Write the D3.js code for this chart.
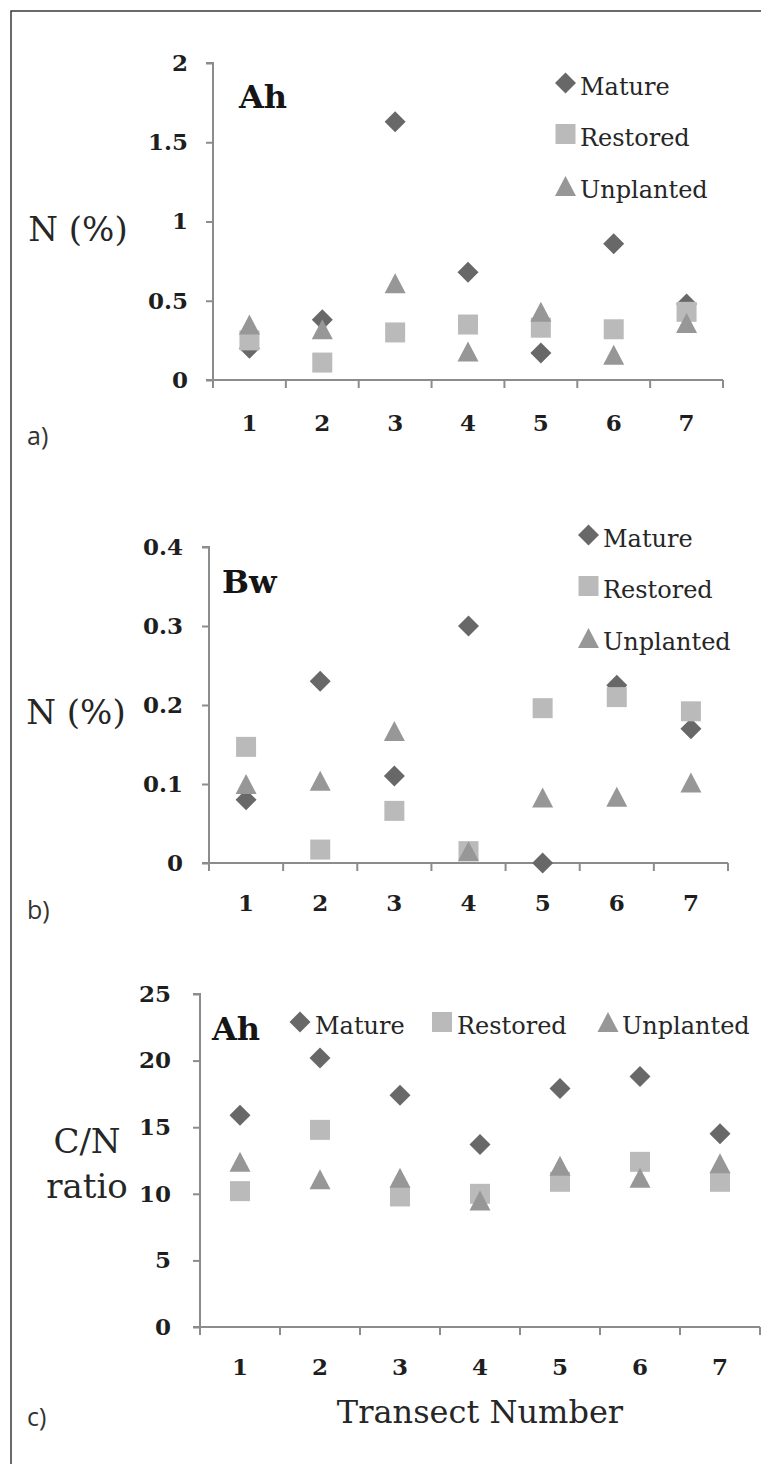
<!DOCTYPE html>
<html>
<head>
<meta charset="utf-8">
<script src="https://cdn.jsdelivr.net/npm/d3@7"></script>
<style>
  html, body { margin: 0; padding: 0; background: #fff; }
  svg { display: block; }
</style>
</head>
<body>
<svg id="chart" width="761" height="1464"></svg>
<script>
// ---- Data ----
const transects = ["1", "2", "3", "4", "5", "6", "7"];
const seriesNames = ["Mature", "Restored", "Unplanted"];

// Panel a: N (%) Ah horizon
const matureAh    = [0.20, 0.38, 1.63, 0.68, 0.17, 0.86, 0.48];
const restoredAh  = [0.25, 0.11, 0.30, 0.35, 0.33, 0.32, 0.43];
const unplantedAh = [0.35, 0.32, 0.61, 0.18, 0.43, 0.16, 0.36];

// Panel b: N (%) Bw horizon
const matureBw    = [0.080, 0.230, 0.110, 0.300, 0.000, 0.225, 0.170];
const restoredBw  = [0.147, 0.017, 0.066, 0.015, 0.196, 0.210, 0.192];
const unplantedBw = [0.100, 0.104, 0.167, 0.015, 0.083, 0.084, 0.102];

// Panel c: C/N ratio Ah horizon
const matureCN    = [15.9, 20.2, 17.4, 13.7, 17.9, 18.8, 14.5];
const restoredCN  = [10.2, 14.8, 9.8, 10.0, 10.9, 12.4, 10.9];
const unplantedCN = [12.4, 11.1, 11.2, 9.5, 12.1, 11.2, 12.3];

// Tick values / labels
const ticksA = [0, 0.5, 1, 1.5, 2];
const ticksB = [0, 0.1, 0.2, 0.3, 0.4];
const ticksC = [0, 5, 10, 15, 20, 25];

// ---- Styles ----
const SERIF = "'DejaVu Serif', 'Liberation Serif', serif";
const SANS = "'Open Sans', 'Noto Sans', sans-serif";
const colors = { Mature: "#686868", Restored: "#bababa", Unplanted: "#979797" };
const axisColor = "#8c8c8c";

const svg = d3.select("#chart");
svg.append("rect").attr("width", 761).attr("height", 1464).attr("fill", "#fff");

// frame (top and left edges visible)
svg.append("path")
  .attr("d", "M11,1464 L11,11 L761,11")
  .attr("fill", "none").attr("stroke", "#3a3a3a").attr("stroke-width", 1.5);

function markerPath(name, cx, cy) {
  if (name === "Mature") {
    const r = 10.5;
    return `M${cx},${cy - r}L${cx + r},${cy}L${cx},${cy + r}L${cx - r},${cy}Z`;
  } else if (name === "Restored") {
    const h = 10;
    return `M${cx - h},${cy - h}H${cx + h}V${cy + h}H${cx - h}Z`;
  } else {
    const w = 10.5, h = 10;
    return `M${cx},${cy - h}L${cx + w},${cy + h}L${cx - w},${cy + h}Z`;
  }
}

const panels = [
  {
    series: [matureAh, restoredAh, unplantedAh],
    ticks: ticksA, domain: [0, 2], fmt: d => String(d),
    x0: 213, x1: 723, yTop: 63, yBot: 380, tickPad: 18, xLabY: 431,
    horizon: "Ah", horizonX: 239, horizonY: 108,
    ylab: ["N (%)"], ylabX: 78, ylabY: [241],
    panelLab: "a)", panelLabY: 445,
    legend: { type: "v", x: 556, y: [83, 134, 186], textX: 580, dy: 12 }
  },
  {
    series: [matureBw, restoredBw, unplantedBw],
    ticks: ticksB, domain: [0, 0.4], fmt: d => d === 0 ? "0" : d3.format(".1f")(d),
    x0: 209, x1: 728, yTop: 547, yBot: 863, tickPad: 19, xLabY: 911,
    horizon: "Bw", horizonX: 222, horizonY: 593,
    ylab: ["N (%)"], ylabX: 76, ylabY: [724],
    panelLab: "b)", panelLabY: 919,
    legend: { type: "v", x: 579, y: [535, 586, 638], textX: 603, dy: 12 }
  },
  {
    series: [matureCN, restoredCN, unplantedCN],
    ticks: ticksC, domain: [0, 25], fmt: d => String(d),
    x0: 200, x1: 760, yTop: 994, yBot: 1327, tickPad: 22, xLabY: 1375,
    horizon: "Ah", horizonX: 212, horizonY: 1040,
    ylab: ["C/N", "ratio"], ylabX: 87, ylabY: [1153, 1198],
    panelLab: "c)", panelLabY: 1426,
    legend: { type: "h", x: [290, 432, 598], y: 1022, textX: [315, 457, 622], dy: 12 }
  }
];

panels.forEach(p => {
  const g = svg.append("g");
  const x = d3.scaleBand().domain(transects).range([p.x0, p.x1]).padding(0);
  const y = d3.scaleLinear().domain(p.domain).range([p.yBot, p.yTop]);

  // Y axis
  const yAxis = d3.axisLeft(y).tickValues(p.ticks).tickFormat(p.fmt).tickSize(7).tickPadding(p.tickPad);
  const ya = g.append("g").attr("transform", `translate(${p.x0},0)`).call(yAxis);
  ya.select(".domain").attr("stroke", axisColor).attr("stroke-width", 2)
    .attr("d", `M-7,${p.yTop}H0V${p.yBot}`);
  ya.selectAll(".tick line").attr("stroke", axisColor).attr("stroke-width", 2);
  ya.selectAll(".tick text")
    .attr("font-family", SERIF).attr("font-weight", "bold").attr("font-size", 23)
    .attr("fill", "#1e1e1e");

  // X axis line with boundary ticks
  const xa = g.append("g");
  xa.append("line").attr("x1", p.x0 - 7).attr("x2", p.x1)
    .attr("y1", p.yBot).attr("y2", p.yBot)
    .attr("stroke", axisColor).attr("stroke-width", 2);
  const bounds = transects.map(t => x(t)).concat([x(transects[transects.length - 1]) + x.step()]);
  xa.selectAll(".bt").data(bounds).join("line")
    .attr("x1", d => d).attr("x2", d => d)
    .attr("y1", p.yBot).attr("y2", p.yBot + 8)
    .attr("stroke", axisColor).attr("stroke-width", 2);
  xa.selectAll(".xl").data(transects).join("text")
    .attr("x", d => x(d) + x.bandwidth() / 2).attr("y", p.xLabY)
    .attr("text-anchor", "middle")
    .attr("font-family", SERIF).attr("font-weight", "bold").attr("font-size", 23)
    .attr("fill", "#1e1e1e").text(d => d);

  // Points (series in order, later on top)
  p.series.forEach((vals, si) => {
    const name = seriesNames[si];
    g.append("g").selectAll("path").data(vals).join("path")
      .attr("d", (v, i) => markerPath(name, x(transects[i]) + x.bandwidth() / 2, y(v)))
      .attr("fill", colors[name]);
  });

  // Horizon label
  g.append("text").attr("x", p.horizonX).attr("y", p.horizonY)
    .attr("font-family", SERIF).attr("font-weight", "bold").attr("font-size", 32)
    .attr("fill", "#151515").text(p.horizon);

  // Y label
  p.ylab.forEach((t, i) => {
    g.append("text").attr("x", p.ylabX).attr("y", p.ylabY[i])
      .attr("text-anchor", "middle")
      .attr("font-family", SERIF).attr("font-size", 34)
      .attr("fill", "#262626").text(t);
  });

  // Panel letter
  g.append("text").attr("x", 27).attr("y", p.panelLabY)
    .attr("font-family", SANS).attr("font-size", 25)
    .attr("fill", "#333").text(p.panelLab);

  // Legend
  const L = p.legend;
  seriesNames.forEach((name, i) => {
    let mx, my, tx;
    if (L.type === "v") { mx = L.x + 9.5; my = L.y[i]; tx = L.textX; }
    else { mx = L.x[i] + 10; my = L.y; tx = L.textX[i]; }
    g.append("path").attr("d", markerPath(name, mx, my)).attr("fill", colors[name]);
    g.append("text").attr("x", tx).attr("y", my + L.dy)
      .attr("font-family", SERIF).attr("font-size", 24)
      .attr("fill", "#262626").text(name);
  });
});

// X axis title
svg.append("text").attr("x", 480).attr("y", 1423).attr("text-anchor", "middle")
  .attr("font-family", SERIF).attr("font-size", 32).attr("fill", "#262626")
  .text("Transect Number");
</script>
</body>
</html>
